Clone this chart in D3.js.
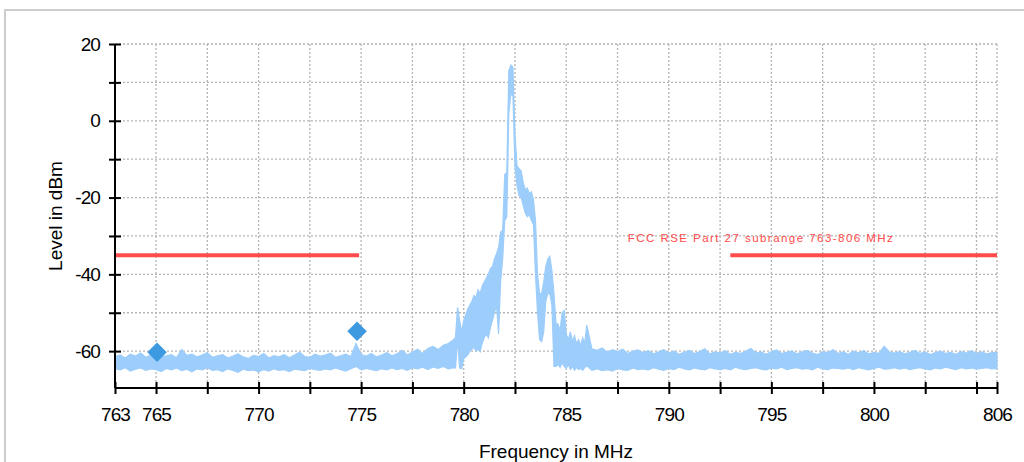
<!DOCTYPE html>
<html>
<head>
<meta charset="utf-8">
<script src="https://cdn.jsdelivr.net/npm/d3@7"></script>
<style>
  body { margin: 0; background: #fff; }
  svg { display: block; }
</style>
</head>
<body>
<div id="chart"></div>
<script>
// trace read off the picture as max / min envelope per frequency bin
// segment A: 763.00 .. 779.50 MHz, step 0.25
const floorLeftHi = [
  -61.5,-61.0,-61.8,-60.8,-61.3,-60.5,-61.6,-61.0,-60.6,-61.4,
  -61.2,-60.9,-61.7,-59.6,-61.1,-60.8,-61.5,-61.0,-60.4,-61.6,
  -61.2,-60.9,-61.8,-61.3,-60.7,-61.5,-61.9,-61.1,-61.4,-60.6,
  -61.8,-61.2,-61.5,-60.9,-61.7,-61.0,-60.3,-61.4,-61.6,-60.8,
  -61.3,-61.0,-60.5,-61.6,-61.2,-60.8,-61.4,-58.0,-60.9,-61.3,
  -60.6,-61.5,-61.0,-60.4,-61.2,-60.7,-59.8,-61.0,-60.2,-59.5,
  -60.6,-59.3,-58.8,-59.6,-58.5,-58.0,-57.0
];
const floorLeftLo = [
  -64.6,-64.9,-64.3,-65.2,-64.7,-64.4,-65.0,-64.6,-64.8,-65.3,
  -64.5,-64.9,-64.4,-65.1,-64.7,-65.4,-64.6,-64.9,-64.3,-65.0,
  -64.8,-65.3,-64.6,-65.0,-65.5,-64.7,-65.1,-64.9,-65.4,-64.8,
  -65.2,-64.6,-65.0,-64.8,-65.3,-64.7,-64.9,-65.1,-64.5,-64.8,
  -65.0,-64.6,-64.9,-64.4,-64.8,-65.2,-64.6,-64.0,-64.9,-64.5,
  -64.8,-65.1,-64.6,-64.9,-64.4,-64.8,-64.5,-65.0,-64.3,-64.6,
  -64.2,-64.8,-64.1,-64.5,-64.0,-64.6,-64.3
];
// segment B: 779.6 .. 786.0 MHz, step 0.1
const peakHi = [
  -56.5,-48.6,-52.0,-55.0,-52.0,-50.5,-49.0,-48.0,-47.0,-45.5,
  -46.0,-44.0,-45.0,-43.0,-42.0,-41.0,-40.0,-38.5,-38.0,-36.0,
  -34.6,-33.0,-29.0,-28.5,-14.0,-13.5, 13.0, 14.5, 14.0, -3.5,
  -11.7,-12.5,-13.0,-16.0,-18.0,-17.5,-19.0,-18.5,-20.5,-26.0,
  -40.0,-45.0,-45.0,-42.0,-38.0,-36.0,-35.3,-39.0,-45.0,-52.7,
  -53.0,-54.6,-50.0,-49.4,-55.5,-57.0,-55.0,-57.5,-56.0,-58.0,
  -57.0,-58.5,-56.5,-58.0,-53.2
];
const peakLo = [
  -64.4,-57.0,-64.4,-64.6,-62.0,-61.5,-61.0,-60.0,-59.5,-59.0,
  -60.0,-59.5,-60.2,-58.0,-56.5,-55.5,-56.5,-54.0,-52.0,-50.0,
  -48.0,-55.5,-42.0,-36.0,-26.0,-25.0,  2.0,  7.0,  6.5,-12.0,
  -17.0,-19.5,-20.0,-22.0,-24.0,-25.0,-24.5,-26.0,-27.0,-40.0,
  -50.0,-57.0,-57.5,-55.0,-47.0,-45.0,-45.0,-48.0,-64.0,-64.0,
  -63.5,-64.2,-63.0,-64.0,-64.5,-63.5,-64.8,-64.0,-65.0,-64.2,
  -64.8,-64.5,-65.0,-64.3,-63.8
];
// segment C: 786.25 .. 806.00 MHz, step 0.25
const floorRightHi = [
  -59.4,-59.8,-59.2,-60.3,-59.6,-60.1,-59.5,-60.6,-60.0,-59.7,
  -60.4,-59.9,-60.7,-60.2,-59.6,-60.5,-60.0,-60.8,-60.3,-59.8,
  -60.6,-60.1,-59.4,-60.7,-60.2,-60.5,-59.9,-60.8,-60.3,-60.6,
  -60.0,-59.3,-60.5,-60.2,-60.8,-60.1,-59.7,-60.6,-60.3,-60.0,
  -60.7,-60.2,-59.8,-60.5,-60.9,-60.1,-60.4,-59.6,-60.6,-60.2,
  -60.8,-60.0,-60.5,-59.9,-60.7,-60.3,-60.6,-58.7,-60.2,-60.5,
  -60.1,-60.7,-60.3,-59.8,-60.6,-60.2,-60.9,-60.4,-60.0,-60.6,
  -60.3,-60.8,-60.1,-60.5,-59.9,-60.6,-60.2,-60.7,-60.4,-60.3
];
const floorRightLo = [
  -65.0,-64.6,-65.1,-64.8,-65.2,-64.5,-64.9,-65.0,-64.4,-64.8,
  -64.6,-64.9,-64.3,-64.7,-65.0,-64.5,-64.8,-64.2,-64.6,-64.9,
  -64.4,-64.7,-64.9,-64.3,-64.6,-64.8,-64.5,-64.9,-64.2,-64.6,
  -64.8,-64.5,-64.3,-64.7,-64.9,-64.4,-64.6,-64.2,-64.8,-64.5,
  -64.3,-64.7,-64.5,-64.9,-64.2,-64.6,-64.8,-64.4,-64.5,-64.7,
  -64.4,-64.8,-64.3,-64.6,-64.9,-64.5,-64.2,-64.7,-64.6,-64.3,
  -64.7,-64.4,-64.8,-64.5,-64.3,-64.6,-64.9,-64.4,-64.6,-64.2,
  -64.5,-64.8,-64.3,-64.6,-64.4,-64.7,-64.5,-64.3,-64.6,-64.5
];
const segments = [
  { start: 763.0, step: 0.25, hi: floorLeftHi, lo: floorLeftLo },
  { start: 779.6, step: 0.1, hi: peakHi, lo: peakLo },
  { start: 786.25, step: 0.25, hi: floorRightHi, lo: floorRightLo }
];

const markerFreq = [765.05, 774.8];
const markerLevel = [-60.3, -54.8];

const limitLevel = -35;
const limitRanges = [[763, 774.9], [793, 806]];
const limitLabel = "FCC RSE Part 27 subrange 763-806 MHz";

const xTicks = [763, 765, 767.5, 770, 772.5, 775, 777.5, 780, 782.5, 785, 787.5,
  790, 792.5, 795, 797.5, 800, 802.5, 805, 806];
const xLabels = [763, 765, 770, 775, 780, 785, 790, 795, 800, 806];
const yTicks = [20, 10, 0, -10, -20, -30, -40, -50, -60];
const yLabels = [20, 0, -20, -40, -60];

const width = 1024, height = 462;
const svg = d3.select('#chart').append('svg')
  .attr('width', width)
  .attr('height', height);

// light frame around the chart
svg.append('rect')
  .attr('x', 5).attr('y', 10)
  .attr('width', 1200).attr('height', 1000)
  .attr('fill', 'none')
  .attr('stroke', '#cdcdcd')
  .attr('stroke-width', 2);

const x = d3.scaleLinear().domain([763, 806]).range([115, 997]);
const y = d3.scaleLinear().domain([-69.6, 20]).range([388, 44]);

// grid
const grid = svg.append('g')
  .attr('stroke', '#b4b4b4')
  .attr('stroke-width', 1.3)
  .attr('stroke-dasharray', '2,2');
grid.selectAll('.gx').data(xTicks.filter(d => d > 763))
  .enter().append('line')
  .attr('x1', d => x(d)).attr('x2', d => x(d))
  .attr('y1', y(20)).attr('y2', y.range()[0]);
grid.selectAll('.gy').data(yTicks)
  .enter().append('line')
  .attr('x1', x(763)).attr('x2', x(806))
  .attr('y1', d => y(d)).attr('y2', d => y(d));

// trace
const pts = [];
segments.forEach(function(s) {
  s.hi.forEach(function(h, i) {
    pts.push({ f: s.start + i * s.step, hi: h, lo: s.lo[i] });
  });
});

const area = d3.area()
  .x(d => x(d.f))
  .y0(d => y(d.lo))
  .y1(d => y(d.hi));

svg.append('path')
  .datum(pts)
  .attr('fill', '#9dcdfb')
  .attr('stroke', '#9dcdfb')
  .attr('stroke-width', 1.2)
  .attr('stroke-linejoin', 'miter')
  .attr('d', area);

// limit line
svg.selectAll('.limit').data(limitRanges)
  .enter().append('line')
  .attr('x1', d => x(d[0])).attr('x2', d => x(d[1]))
  .attr('y1', y(limitLevel)).attr('y2', y(limitLevel))
  .attr('stroke', '#ff4b4b')
  .attr('stroke-width', 4);

svg.append('text')
  .attr('x', x(788))
  .attr('y', y(limitLevel) - 13)
  .attr('textLength', 265)
  .attr('lengthAdjust', 'spacing')
  .attr('font-family', 'Liberation Sans, Arial, sans-serif')
  .attr('font-size', 11.5)
  .attr('fill', '#ff4b4b')
  .text(limitLabel);

// markers
svg.selectAll('.marker').data(markerFreq)
  .enter().append('path')
  .attr('d', d3.symbol(d3.symbolSquare, 190))
  .attr('transform', (d, i) => 'translate(' + x(d) + ',' + y(markerLevel[i]) + ') rotate(45)')
  .attr('fill', '#3d9ae0');

// axes
const xAxis = svg.append('g')
  .attr('transform', 'translate(0,' + y.range()[0] + ')')
  .call(d3.axisBottom(x).tickValues(xTicks).tickSize(6).tickPadding(14)
    .tickFormat(d => xLabels.indexOf(d) >= 0 ? d : ''));

const yAxis = svg.append('g')
  .attr('transform', 'translate(' + x(763) + ',0)')
  .call(d3.axisLeft(y).tickValues(yTicks).tickSize(6).tickPadding(9)
    .tickFormat(d => yLabels.indexOf(d) >= 0 ? d : ''));

[xAxis, yAxis].forEach(function(ax) {
  ax.select('.domain').attr('stroke', '#000').attr('stroke-width', 2);
  ax.selectAll('.tick line').attr('stroke', '#000').attr('stroke-width', 2);
  ax.selectAll('.tick text')
    .attr('font-family', 'Liberation Sans, Arial, sans-serif')
    .attr('font-size', 19)
    .attr('letter-spacing', -0.9)
    .attr('fill', '#000');
});
xAxis.select('.domain').attr('d', 'M' + x(763) + ',0H' + x(806));
xAxis.selectAll('.tick line').attr('y1', -6).attr('y2', 6);
yAxis.select('.domain').attr('d', 'M0,' + y(20) + 'V' + y.range()[0]);
yAxis.selectAll('.tick line').attr('x1', 6).attr('x2', -6);

// titles
svg.append('text')
  .attr('x', (x(763) + x(806)) / 2)
  .attr('y', 458)
  .attr('text-anchor', 'middle')
  .attr('font-family', 'Liberation Sans, Arial, sans-serif')
  .attr('font-size', 19)
  .text('Frequency in MHz');

svg.append('text')
  .attr('transform', 'translate(62,' + (y(20) + y.range()[0]) / 2 + ') rotate(-90)')
  .attr('text-anchor', 'middle')
  .attr('font-family', 'Liberation Sans, Arial, sans-serif')
  .attr('font-size', 19)
  .text('Level in dBm');
</script>
</body>
</html>
